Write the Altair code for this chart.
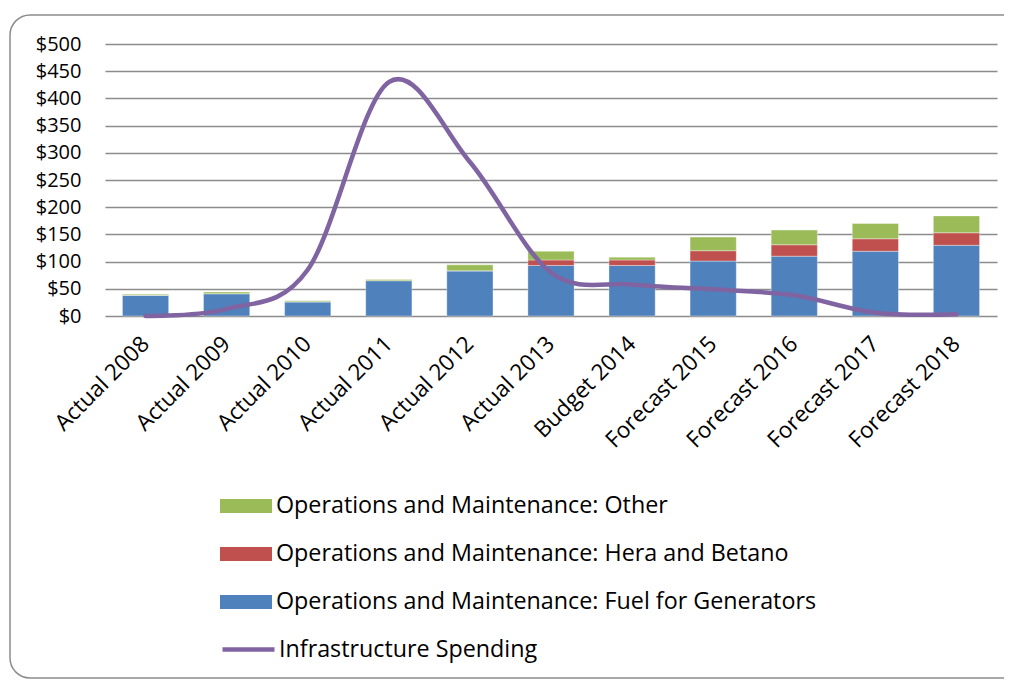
import altair as alt
import pandas as pd

categories = ["Actual 2008", "Actual 2009", "Actual 2010", "Actual 2011", "Actual  2012",
              "Actual 2013", "Budget 2014", "Forecast 2015", "Forecast 2016",
              "Forecast 2017", "Forecast 2018"]
fuel = [38, 41, 26, 65, 83, 93, 93, 101, 110, 119, 130]
hera = [0, 0, 0, 0, 0, 10, 10, 19, 21, 23, 23]
other = [2, 3, 2, 2, 11, 16, 5, 25, 27, 28, 31]
infrastructure = [0, 13, 85, 430, 283, 80, 58, 49, 38, 6, 3]
y_ticks = [0, 50, 100, 150, 200, 250, 300, 350, 400, 450, 500]

S_OTHER = "Operations and Maintenance: Other"
S_HERA = "Operations and Maintenance: Hera and Betano"
S_FUEL = "Operations and Maintenance: Fuel for Generators"
S_INFRA = "Infrastructure Spending"

rows = []
for i, c in enumerate(categories):
    rows.append({"cat": c, "series": S_FUEL, "value": fuel[i], "ord": 0})
    rows.append({"cat": c, "series": S_HERA, "value": hera[i], "ord": 1})
    rows.append({"cat": c, "series": S_OTHER, "value": other[i], "ord": 2})
bars_df = pd.DataFrame(rows)
line_df = pd.DataFrame({"cat": categories, "value": infrastructure, "series": S_INFRA})

FONT = "Open Sans"
FS_Y = 20
FS_X = 22.5
FS_L = 23.3

x_axis = alt.Axis(labelAngle=-45, labelAlign="right", labelBaseline="middle",
                  labelFontSize=FS_X, labelFont=FONT, labelColor="black",
                  labelPadding=24, ticks=False, domain=False, grid=False)
y_axis = alt.Axis(values=y_ticks, format="$,d", labelOverlap=False,
                  labelFontSize=FS_Y, labelFont=FONT, labelColor="black",
                  labelPadding=24, ticks=False, domain=False,
                  grid=True, gridColor="#8c8c8c", gridWidth=1.5)
xscale = alt.Scale(paddingInner=0.43, paddingOuter=0.215)
yscale = alt.Scale(domain=[0, 500])

bars = alt.Chart(bars_df).mark_bar(stroke="white", strokeWidth=0.6, strokeOpacity=0.6).encode(
    x=alt.X("cat:N", sort=categories, title=None, scale=xscale, axis=x_axis),
    y=alt.Y("value:Q", stack="zero", scale=yscale, title=None, axis=y_axis),
    color=alt.Color("series:N",
                    scale=alt.Scale(domain=[S_OTHER, S_HERA, S_FUEL],
                                    range=["#9BBB59", "#C0504D", "#4F81BD"]),
                    legend=alt.Legend(title=None, orient="none", legendX=115, legendY=436,
                                      symbolType="M-1,-0.27H1V0.27H-1Z", symbolSize=2704,
                                      symbolStrokeWidth=0, symbolOpacity=1,
                                      labelFontSize=FS_L, labelFont=FONT, labelColor="black",
                                      labelOffset=4, rowPadding=10, labelLimit=800)),
    order=alt.Order("ord:Q"),
)

line = alt.Chart(line_df).mark_line(interpolate="cardinal", strokeWidth=4.5, strokeCap="round").encode(
    x=alt.X("cat:N", sort=categories, title=None, scale=xscale, axis=x_axis),
    y=alt.Y("value:Q", scale=yscale, title=None, axis=y_axis),
    stroke=alt.Stroke("series:N", scale=alt.Scale(domain=[S_INFRA], range=["#8064A2"]),
                      legend=alt.Legend(title=None, orient="none", legendX=115, legendY=577,
                                        symbolType="stroke", symbolSize=2704,
                                        symbolStrokeWidth=4.5,
                                        labelFontSize=FS_L, labelFont=FONT, labelColor="black",
                                        labelOffset=2, labelLimit=800)),
)

frame = alt.Chart(pd.DataFrame({"k": [0]})).mark_rect(
    fill=None, stroke="#8c8c8c", strokeWidth=1.5, cornerRadius=20
).encode(x=alt.value(-95), x2=alt.value(960), y=alt.value(-29), y2=alt.value(634))

chart = alt.layer(frame, bars, line).properties(
    width=892, height=272,
    autosize=alt.AutoSizeParams(type="none"),
    padding={"left": 97, "top": 36, "right": 7, "bottom": 364},
).configure_view(stroke=None)

chart.save("out.html", embed_options={"renderer": "svg", "actions": False})
